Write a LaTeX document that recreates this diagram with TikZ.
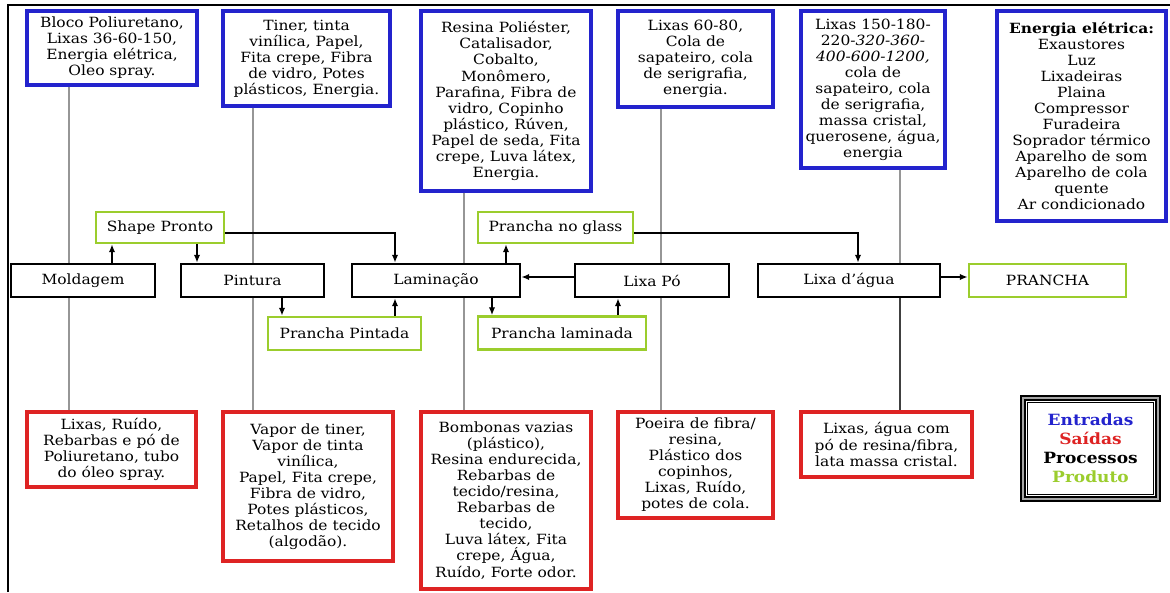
\documentclass[tikz,border=0pt]{standalone}
\usepackage{fontspec}
\setmainfont{DejaVu Serif}[FakeStretch=1.1]
\usepackage{xcolor}
\usepackage{tikz}
\usetikzlibrary{arrows.meta}

\definecolor{entrada}{RGB}{35,35,205}
\definecolor{saida}{RGB}{222,35,35}
\definecolor{produto}{RGB}{155,205,45}
\definecolor{linha}{RGB}{150,150,150}

\begin{document}
\begin{tikzpicture}[
        x=0.025cm, y=-0.025cm,
        every node/.style={font=\fontsize{10}{11.4}\selectfont, align=center, inner sep=2pt, fill=white},
        inbox/.style={draw=entrada, line width=2.4pt},
        outbox/.style={draw=saida, line width=2.2pt},
        procbox/.style={draw=black, line width=2pt, minimum height=0.825cm},
        prodbox/.style={draw=produto, line width=2pt},
        fio/.style={draw=linha, line width=0.9pt},
        seta/.style={line width=0.9pt, -{Latex[length=5.5pt,width=4.5pt]}},
    ]
        \useasboundingbox (0,0) rectangle (1170,592);
        \draw[line width=1.5pt] (8,592) -- (8,5) -- (1170,5);
        % entradas
        \node[inbox, minimum width=4.25cm, minimum height=1.85cm] (e1) at (112,48) {Bloco Poliuretano,\\Lixas 36-60-150,\\Energia elétrica,\\Oleo spray.};
        \node[inbox, minimum width=4.175cm, minimum height=2.375cm] (e2) at (306.5,58.5) {Tiner, tinta\\vinílica, Papel,\\Fita crepe, Fibra\\de vidro, Potes\\plásticos, Energia.};
        \node[inbox, minimum width=4.25cm, minimum height=4.5cm] (e3) at (506,101) {Resina Poliéster,\\Catalisador,\\Cobalto,\\Monômero,\\Parafina, Fibra de\\vidro, Copinho\\plástico, Rúven,\\Papel de seda, Fita\\crepe, Luva látex,\\Energia.};
        \node[inbox, minimum width=3.875cm, minimum height=2.4cm] (e4) at (695.5,59) {Lixas 60-80,\\Cola de\\sapateiro, cola\\de serigrafia,\\energia.};
        \node[inbox, minimum width=3.6cm, minimum height=3.925cm] (e5) at (873,89.5) {Lixas 150-180-\\220-\textit{320-360-}\\\textit{400-600-1200,}\\cola de\\sapateiro, cola\\de serigrafia,\\massa cristal,\\querosene, água,\\energia};
        \node[inbox, minimum width=4.225cm, minimum height=5.25cm] (e6) at (1081.5,116) {\textbf{Energia elétrica:}\\Exaustores\\Luz\\Lixadeiras\\Plaina\\Compressor\\Furadeira\\Soprador térmico\\Aparelho de som\\Aparelho de cola\\quente\\Ar condicionado};
        % processos
        \node[procbox, minimum width=3.6cm] (mold) at (83,280.5) {Moldagem};
        \node[procbox, minimum width=3.575cm] (pint) at (252.5,280.5) {Pintura};
        \node[procbox, minimum width=4.2cm] (lam) at (436,280.5) {Laminação};
        \node[procbox, minimum width=3.85cm] (lixp) at (652,280.5) {Lixa Pó};
        \node[procbox, minimum width=4.55cm] (lixa) at (849,280.5) {Lixa d’água};
        % produtos
        \node[prodbox, minimum width=3.925cm, minimum height=0.825cm] (pr) at (1047.5,280.5) {PRANCHA};
        \node[prodbox, minimum width=3.2cm, minimum height=0.775cm] (shp) at (160,227.5) {Shape Pronto};
        \node[prodbox, minimum width=3.875cm, minimum height=0.775cm] (png) at (555.5,227.5) {Prancha no glass};
        \node[prodbox, minimum width=3.825cm, minimum height=0.825cm] (ppi) at (344.5,333.5) {Prancha Pintada};
        \node[prodbox, minimum width=4.2cm, minimum height=0.825cm] (pla) at (562,333) {Prancha laminada};
        % saidas
        \node[outbox, minimum width=4.225cm, minimum height=1.875cm] (s1) at (111.5,449.5) {Lixas, Ruído,\\Rebarbas e pó de\\Poliuretano, tubo\\do óleo spray.};
        \node[outbox, minimum width=4.25cm, minimum height=3.725cm] (s2) at (308,486.5) {Vapor de tiner,\\Vapor de tinta\\vinílica,\\Papel, Fita crepe,\\Fibra de vidro,\\Potes plásticos,\\Retalhos de tecido\\(algodão).};
        \node[outbox, minimum width=4.25cm, minimum height=4.425cm] (s3) at (506,500.5) {Bombonas vazias\\(plástico),\\Resina endurecida,\\Rebarbas de\\tecido/resina,\\Rebarbas de\\tecido,\\Luva látex, Fita\\crepe, Água,\\Ruído, Forte odor.};
        \node[outbox, minimum width=3.875cm, minimum height=2.65cm] (s4) at (695.5,465) {Poeira de fibra/\\resina,\\Plástico dos\\copinhos,\\Lixas, Ruído,\\potes de cola.};
        \node[outbox, minimum width=4.275cm, minimum height=1.625cm] (s5) at (886.5,444.5) {Lixas, água com\\pó de resina/fibra,\\lata massa cristal.};
        % legenda
        \node[draw, line width=1.2pt, double=gray!70, double distance=1.6pt, minimum width=3.375cm, minimum height=2.525cm, font=\fontsize{11}{13.5}\selectfont\bfseries] (leg) at (1090.5,448.5) {\textcolor{entrada}{Entradas}\\\textcolor{saida}{Saídas}\\Processos\\\textcolor{produto}{Produto}};
        \draw[line width=0.6pt] ([shift={(5,5)}]leg.north west) rectangle ([shift={(-5,-5)}]leg.south east);
        % fios
        \draw[fio] (e1.south -| 69,0) -- (mold.north -| 69,0);
        \draw[fio] (mold.south -| 69,0) -- (s1.north -| 69,0);
        \draw[fio] (e2.south -| 253,0) -- (pint.north -| 253,0);
        \draw[fio] (pint.south -| 253,0) -- (s2.north -| 253,0);
        \draw[fio] (e3.south -| 464,0) -- (lam.north -| 464,0);
        \draw[fio] (lam.south -| 464,0) -- (s3.north -| 464,0);
        \draw[fio] (e4.south -| 661,0) -- (lixp.north -| 661,0);
        \draw[fio] (lixp.south -| 661,0) -- (s4.north -| 661,0);
        \draw[fio] (e5.south -| 900,0) -- (lixa.north -| 900,0);
        \draw[fio, draw=black!75] (lixa.south -| 900,0) -- (s5.north -| 900,0);
        % setas
        \draw[seta] (mold.north -| 112,0) -- (shp.south -| 112,0);
        \draw[seta] (shp.south -| 197,0) -- (pint.north -| 197,0);
        \draw[seta] (shp.east |- 0,233) -| (lam.north -| 395,0);
        \draw[seta] (pint.south -| 282,0) -- (ppi.north -| 282,0);
        \draw[seta] (ppi.north -| 395,0) -- (lam.south -| 395,0);
        \draw[seta] (lam.north -| 506,0) -- (png.south -| 506,0);
        \draw[seta] (lam.south -| 492,0) -- (pla.north -| 492,0);
        \draw[seta] (lixp.west |- 0,277) -- (lam.east |- 0,277);
        \draw[seta] (pla.north -| 618,0) -- (lixp.south -| 618,0);
        \draw[seta] (png.east |- 0,233) -| (lixa.north -| 858,0);
        \draw[seta] (lixa.east |- 0,277) -- (pr.west |- 0,277);
    \end{tikzpicture}
\end{document}
